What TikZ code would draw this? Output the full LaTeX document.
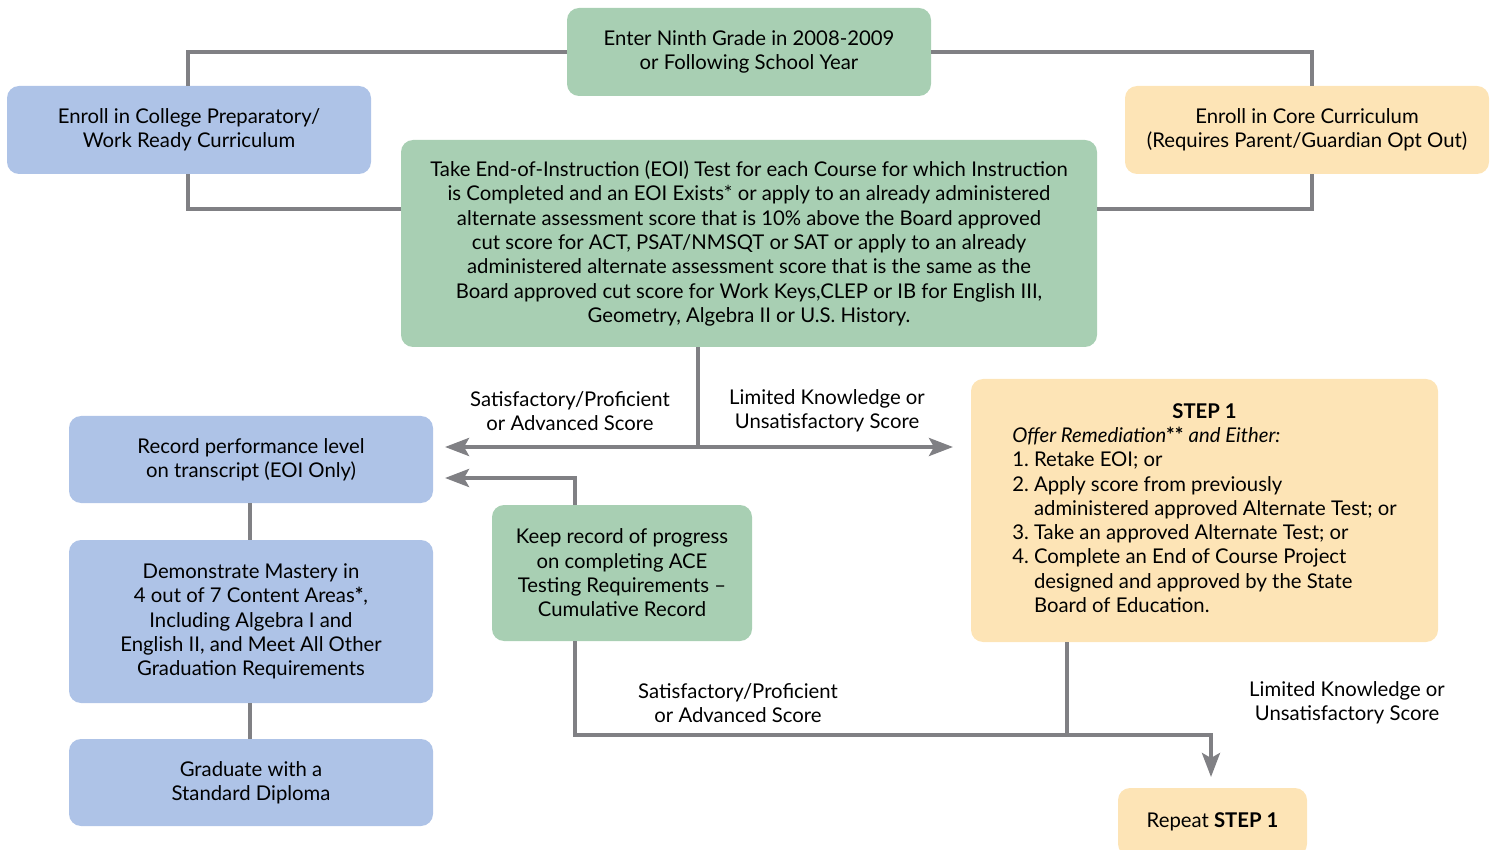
\documentclass[tikz,border=0pt]{standalone}
\usepackage{fontspec}
\setmainfont{Lato}
\usetikzlibrary{arrows.meta,calc}
\definecolor{gbox}{HTML}{A8CFB3}
\definecolor{bbox}{HTML}{AEC3E7}
\definecolor{ybox}{HTML}{FDE4B6}
\definecolor{lnc}{HTML}{808084}
\begin{document}
\begin{tikzpicture}[x=0.5pt,y=-0.5pt,
  every node/.style={font=\fontsize{10.15}{12.15}\selectfont, text=black},
  box/.style={rounded corners=6pt, align=center, inner sep=0pt},
  gb/.style={box, fill=gbox},
  bb/.style={box, fill=bbox},
  yb/.style={box, fill=ybox},
  conn/.style={draw=lnc, line width=2pt},
  arr/.style={conn, -{Stealth[length=12pt,width=9pt,inset=2.5pt]}},
  lbl/.style={align=center, inner sep=0pt}]
\useasboundingbox (0,0) rectangle (1495,850);

% nodes
\node[gb, minimum width=182pt, minimum height=44pt] (enter) at (749,52)
  {Enter Ninth Grade in 2008-2009\\or Following School Year};
\node[bb, minimum width=182pt, minimum height=44pt] (prep) at (189,130)
  {Enroll in College Preparatory/\\Work Ready Curriculum};
\node[yb, minimum width=182pt, minimum height=44pt] (core) at (1307,130)
  {Enroll in Core Curriculum\\(Requires Parent/Guardian Opt Out)};
\node[gb, minimum width=348pt, minimum height=103.5pt] (eoi) at (749,243.5)
  {Take End-of-Instruction (EOI) Test for each Course for which Instruction\\
   is Completed and an EOI Exists* or apply to an already administered\\
   alternate assessment score that is 10\% above the Board approved\\
   cut score for ACT, PSAT/NMSQT or SAT or apply to an already\\
   administered alternate assessment score that is the same as the\\
   Board approved cut score for Work Keys,CLEP or IB for English III,\\
   Geometry, Algebra II or U.S. History.};
\node[bb, minimum width=182pt, minimum height=43.5pt] (record) at (251,459.5)
  {Record performance level\\on transcript (EOI Only)};
\node[bb, minimum width=182pt, minimum height=81.5pt] (mastery) at (251,621.5)
  {Demonstrate Mastery in\\4 out of 7 Content Areas\textbf{*},\\Including Algebra I and\\English II, and Meet All Other\\Graduation Requirements};
\node[bb, minimum width=182pt, minimum height=43.5pt] (grad) at (251,782.5)
  {Graduate with a\\Standard Diploma};
\node[gb, minimum width=130pt, minimum height=68pt] (keep) at (622,573)
  {Keep record of progress\\on completing ACE\\Testing Requirements –\\Cumulative Record};
\node[yb, minimum width=233.5pt, minimum height=131.5pt] (step) at (1204.5,510.5)
  {\begin{tabular}{@{}l@{\ }l@{}}
   \multicolumn{2}{@{}c@{}}{\textbf{STEP 1}}\\
   \multicolumn{2}{@{}l@{}}{\textit{Offer Remediation}\textbf{**} \textit{and Either:}}\\
   1. & Retake EOI; or\\
   2. & Apply score from previously\\
      & administered approved Alternate Test; or\\
   3. & Take an approved Alternate Test; or\\
   4. & Complete an End of Course Project\\
      & designed and approved by the State\\
      & Board of Education.
   \end{tabular}};
\node[yb, minimum width=94.5pt, minimum height=34pt] (repeat) at (1212.5,822)
  {Repeat \textbf{STEP 1}};

% connector coordinates
\coordinate (split) at (698,447);
\coordinate (tipL) at (445,447);
\coordinate (tipR) at (953,447);
\coordinate (tipK) at (445,478);
\coordinate (join) at (1067,735);
\coordinate (tipD) at (1211,777);

% top connectors
\draw[conn] (enter.west |- 0,52) -| (prep.north -| 188,0);
\draw[conn] (enter.east |- 0,52) -| (core.north -| 1312,0);
\draw[conn] (prep.south -| 188,0) |- (eoi.west |- 0,209);
\draw[conn] (core.south -| 1312,0) |- (eoi.east |- 0,209);

% from EOI
\draw[conn] (eoi.south -| split) -- (split);
\draw[arr] (split) -- (tipL);
\draw[arr] (split) -- (tipR);

% keep record up
\draw[arr] (keep.north -| 575,0) |- (tipK);

% left column
\draw[conn] (record.south -| 250,0) -- (mastery.north -| 250,0);
\draw[conn] (mastery.south -| 250,0) -- (grad.north -| 250,0);

% bottom connectors
\draw[conn] (keep.south -| 575,0) |- (join);
\draw[conn] (step.south -| join) -- (join);
\draw[arr] (join) -| (tipD);

% labels
\node[lbl] (l1) at (570,411) {Satisfactory/Proficient\\or Advanced Score};
\node[lbl] (l2) at (827,411) {Limited Knowledge or\\Unsatisfactory Score};
\node[lbl] (l3) at (738,703) {Satisfactory/Proficient\\or Advanced Score};
\node[lbl] (l4) at (1347,703) {Limited Knowledge or\\Unsatisfactory Score};
\end{tikzpicture}
\end{document}
